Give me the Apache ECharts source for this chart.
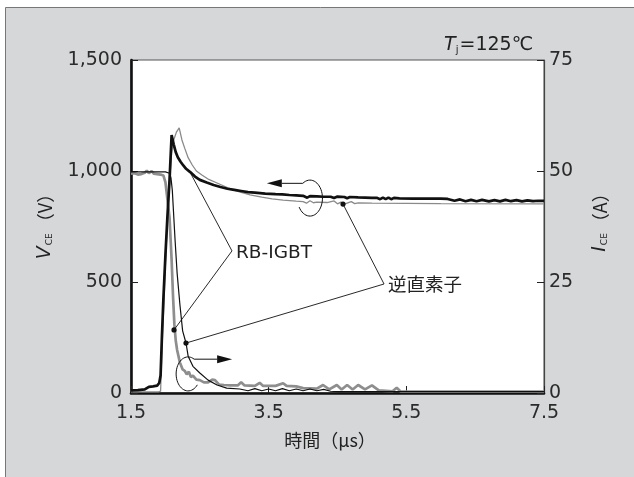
<!DOCTYPE html>
<html>
<head>
<meta charset="utf-8">
<script src="https://cdn.jsdelivr.net/npm/echarts@6/dist/echarts.min.js"></script>
<style>
html, body { margin: 0; padding: 0; background: #fff; }
#main { width: 634px; height: 477px; }
</style>
</head>
<body>
<div id="main"></div>
<script>
// tick values
const xTicks = [1.5, 3.5, 5.5, 7.5];

// V_CE, RB-IGBT (black thick), volts
const tVceRb = [1.5, 1.6, 1.7, 1.76, 1.82, 1.88, 1.91, 1.93, 1.95, 1.97, 2.0, 2.03, 2.06, 2.09,
  2.12, 2.15, 2.18, 2.22, 2.26, 2.3, 2.36, 2.43, 2.5, 2.6, 2.7, 2.8, 2.9, 3.0, 3.1, 3.2, 3.3,
  3.45, 3.6, 3.7, 3.8, 3.9, 4.0, 4.06, 4.1, 4.2, 4.3, 4.4, 4.45, 4.5, 4.6, 4.64, 4.68, 4.8,
  5.0, 5.07, 5.12, 5.16, 5.2, 5.24, 5.28, 5.32, 5.4, 5.6, 6.0, 6.1, 6.2, 6.28, 6.36, 6.44,
  6.52, 6.6, 6.7, 6.78, 6.86, 6.94, 7.02, 7.1, 7.18, 7.26, 7.34, 7.42, 7.5];
const vceRb = [12, 13, 16, 28, 30, 33, 45, 80, 260, 420, 620, 800, 960, 1162,
  1120, 1085, 1062, 1042, 1025, 1010, 995, 975, 960, 948, 937, 928, 920, 915, 910, 905, 903,
  898, 896, 895, 892, 890, 888, 880, 887, 886, 884, 884, 878, 885, 883, 877, 883, 881,
  879, 879, 873, 880, 873, 880, 873, 879, 877, 876, 876, 874, 866, 872, 864, 870,
  864, 870, 863, 869, 863, 870, 864, 869, 863, 868, 864, 866, 865];

// V_CE, 逆直素子 (grey thin), volts
const tVceRev = [1.5, 1.9, 1.93, 1.95, 1.98, 2.0, 2.03, 2.06, 2.09, 2.12, 2.16, 2.2, 2.24, 2.28,
  2.33, 2.39, 2.45, 2.53, 2.63, 2.75, 2.9, 3.05, 3.23, 3.4, 3.55, 3.71, 3.9, 4.0, 4.05, 4.1,
  4.15, 4.2, 4.35, 4.45, 4.5, 4.55, 4.6, 4.7, 4.75, 4.8, 5.0, 5.5, 6.0, 7.5];
const vceRev = [5, 5, 8, 200, 420, 580, 780, 950, 1080, 1140, 1175, 1194, 1140, 1103,
  1060, 1027, 1000, 982, 962, 946, 925, 908, 892, 882, 874, 869, 864, 862, 855, 866,
  857, 860, 858, 865, 852, 860, 851, 862, 853, 856, 855, 854, 853, 852];

// I_C, RB-IGBT (grey thick), amperes
const tIcRb = [1.5, 1.55, 1.6, 1.65, 1.7, 1.73, 1.76, 1.8, 1.83, 1.88, 1.93, 1.97, 2.0, 2.03,
  2.06, 2.09, 2.11, 2.13, 2.15, 2.17, 2.21, 2.25, 2.28, 2.31, 2.34, 2.37, 2.4, 2.45, 2.5,
  2.56, 2.62, 2.68, 2.72, 2.78, 2.85, 2.95, 3.05, 3.1, 3.15, 3.3, 3.37, 3.42, 3.6, 3.71,
  3.76, 3.9, 4.0, 4.2, 4.29, 4.38, 4.49, 4.56, 4.64, 4.72, 4.8, 4.9, 5.0, 5.1, 5.2, 5.3,
  5.36, 5.42, 5.6, 7.5];
const icRb = [49.4, 49.5, 49.2, 49.3, 49.6, 50.1, 49.5, 50.0, 49.4, 49.3, 49.2, 49.0, 47.5, 43.5,
  39.5, 30, 22, 15.5, 11.8, 9.7, 6.9, 5.3, 5.0, 4.2, 4.8, 3.6, 3.9, 3.0, 2.9,
  2.4, 2.4, 3.0, 2.9, 1.9, 1.8, 1.7, 1.7, 2.4, 1.7, 1.6, 2.3, 1.6, 1.6, 2.2,
  1.6, 1.5, 1.1, 1.0, 1.8, 0.8, 1.8, 0.8, 1.8, 0.8, 1.8, 0.8, 1.7, 0.6, 0.5, 0.4,
  1.2, 0.3, 0.3, 0.3];

// I_C, 逆直素子 (black thin), amperes
const tIcRev = [1.5, 2.0, 2.06, 2.08, 2.1, 2.14, 2.17, 2.21, 2.25, 2.3, 2.33, 2.4, 2.5, 2.62,
  2.75, 2.89, 3.08, 3.2, 3.3, 3.4, 3.5, 3.6, 3.7, 3.8, 3.9, 4.0, 4.1, 4.2, 4.3, 4.4, 4.5, 7.5];
const icRev = [49.8, 49.8, 49.5, 48.5, 45.7, 34.5, 27, 20, 14, 11.2, 8.3, 6.0, 4.5, 2.9,
  1.8, 1.1, 0.9, 0.5, 1.0, 0.5, 0.9, 0.5, 1.0, 0.5, 0.9, 0.5, 0.9, 0.5, 0.8, 0.4, 0.3, 0.3];

// leader lines: [vertex, end points...], data units of the left axis
const rbLeader = { label: 'RB-IGBT', vertex: [2.967, 640], ends: [[2.357, 995], [2.125, 284]], dots: [false, true] };
const revLeader = { label: '逆直素子', vertex: [5.176, 491], ends: [[4.58, 851], [2.299, 225]], dots: [true, true] };
const vEllipseAt = [4.10, 878];
const iEllipseAt = [2.33, 86];

const zip = (xs, ys) => xs.map((x, i) => [x, ys[i]]);

const chart = echarts.init(document.getElementById('main'));
const tickFont = { fontFamily: 'DejaVu Sans', fontSize: 19, color: '#2b2b2b' };

chart.setOption({
  animation: false,
  backgroundColor: '#ffffff',
  grid: { left: 131, right: 90, top: 60, bottom: 84, show: true, backgroundColor: '#fff', borderColor: '#555', borderWidth: 1 },
  xAxis: {
    type: 'value', min: 1.5, max: 7.5,
    axisLine: { show: true, onZero: false, lineStyle: { color: '#111', width: 2.6 } },
    axisTick: { show: true, inside: true, length: 7, customValues: xTicks, lineStyle: { color: '#222', width: 1 } },
    axisLabel: { customValues: xTicks, margin: 11, ...tickFont },
    splitLine: { show: false }
  },
  yAxis: [{
    type: 'value', min: 0, max: 1500, interval: 500, position: 'left',
    axisLine: { show: true, lineStyle: { color: '#111', width: 2.6 } },
    axisTick: { show: true, inside: true, length: 7, lineStyle: { color: '#222', width: 1 } },
    axisLabel: { margin: 9, ...tickFont, formatter: v => v.toLocaleString('en-US') },
    splitLine: { show: false }
  }, {
    type: 'value', min: 0, max: 75, interval: 25, position: 'right',
    axisLine: { show: true, lineStyle: { color: '#444', width: 1.2 } },
    axisTick: { show: true, inside: true, length: 7, lineStyle: { color: '#222', width: 1 } },
    axisLabel: { margin: 5, ...tickFont },
    splitLine: { show: false }
  }],
  series: [
    { name: 'VCE 逆直素子', type: 'line', yAxisIndex: 0, data: zip(tVceRev, vceRev), showSymbol: false,
      lineStyle: { color: '#8a8a8a', width: 1.3 }, z: 2 },
    { name: 'IC RB-IGBT', type: 'line', yAxisIndex: 1, data: zip(tIcRb, icRb), showSymbol: false,
      lineStyle: { color: '#8e8e8e', width: 2.7 }, z: 3 },
    { name: 'IC 逆直素子', type: 'line', yAxisIndex: 1, data: zip(tIcRev, icRev), showSymbol: false,
      lineStyle: { color: '#111', width: 1.2 }, z: 4 },
    { name: 'VCE RB-IGBT', type: 'line', yAxisIndex: 0, data: zip(tVceRb, vceRb), showSymbol: false,
      lineStyle: { color: '#111', width: 2.7 }, z: 5 }
  ]
});

const px = p => chart.convertToPixel({ xAxisIndex: 0, yAxisIndex: 0 }, p);
const graphics = [];

// panel
graphics.push({ type: 'rect', z: -10, silent: true, shape: { x: 5.5, y: 7.5, width: 640, height: 480 },
  style: { fill: '#d6d7d9', stroke: '#777', lineWidth: 1 } });
graphics.push({ type: 'rect', z: -9, silent: true, shape: { x: 131, y: 60, width: 413, height: 333 },
  style: { fill: '#fff' } });

// leaders
[rbLeader, revLeader].forEach(ld => {
  const v = px(ld.vertex);
  ld.ends.forEach((e, i) => {
    const p = px(e);
    graphics.push({ type: 'line', z: 20, shape: { x1: v[0], y1: v[1], x2: p[0], y2: p[1] }, style: { stroke: '#111', lineWidth: 0.9 } });
    if (ld.dots[i]) graphics.push({ type: 'circle', z: 21, shape: { cx: p[0], cy: p[1], r: 2.6 }, style: { fill: '#111' } });
  });
  graphics.push({ type: 'text', z: 21, x: v[0] + 4, y: v[1] + 2,
    style: { text: ld.label, fontFamily: 'DejaVu Sans, Noto Sans CJK JP', fontSize: 18.5, fill: '#222', verticalAlign: 'middle', align: 'left' } });
});

// ellipse marks with arrows
function ellipseArc(c, rx, ry, a0, a1) {
  const pts = [];
  const n = 40;
  for (let k = 0; k <= n; k++) {
    const a = (a0 + (a1 - a0) * k / n) * Math.PI / 180;
    pts.push([c[0] + rx * Math.cos(a), c[1] + ry * Math.sin(a)]);
  }
  return pts;
}
function arrow(from, dir, len) {
  const tip = [from[0] + dir * len, from[1]];
  const base = tip[0] - dir * 15;
  graphics.push({ type: 'line', z: 20, shape: { x1: from[0], y1: from[1], x2: base, y2: from[1] }, style: { stroke: '#111', lineWidth: 1 } });
  graphics.push({ type: 'polygon', z: 20, shape: { points: [[tip[0], tip[1]], [base, tip[1] - 4], [base, tip[1] + 4]] }, style: { fill: '#111' } });
}
{
  const c = px(vEllipseAt);
  const pts = ellipseArc(c, 12.5, 18, -125, 150);
  graphics.push({ type: 'polyline', z: 20, shape: { points: pts }, style: { stroke: '#111', lineWidth: 1, fill: null } });
  arrow(pts[0], -1, 36);
}
{
  const c = px(iEllipseAt);
  const pts = ellipseArc(c, 12, 17, -60, -320);
  graphics.push({ type: 'polyline', z: 20, shape: { points: pts }, style: { stroke: '#111', lineWidth: 1, fill: null } });
  arrow(pts[0], 1, 38);
}

// texts
graphics.push({ type: 'text', z: 21, x: 533, y: 45,
  style: {
    text: '{i|T}{s|j}{n|=125℃}', align: 'right', verticalAlign: 'middle', fill: '#222',
    rich: {
      i: { fontFamily: 'DejaVu Sans', fontStyle: 'italic', fontSize: 19, fill: '#222' },
      s: { fontFamily: 'DejaVu Sans', fontSize: 10, fill: '#222', padding: [10, 1, 0, 0] },
      n: { fontFamily: 'DejaVu Sans, Noto Sans CJK JP', fontSize: 19, fill: '#222' }
    }
  } });
graphics.push({ type: 'text', z: 21, x: 45, y: 222, rotation: Math.PI / 2,
  style: {
    text: '{i|V}{s|CE}{n|（V）}', align: 'center', verticalAlign: 'middle',
    rich: {
      i: { fontFamily: 'DejaVu Sans', fontStyle: 'italic', fontSize: 19, fill: '#222' },
      s: { fontFamily: 'DejaVu Sans', fontSize: 9, fill: '#222', padding: [10, 2, 0, 1] },
      n: { fontFamily: 'Noto Sans CJK JP', fontSize: 18, fill: '#222' }
    }
  } });
graphics.push({ type: 'text', z: 21, x: 600, y: 218, rotation: Math.PI / 2,
  style: {
    text: '{i|I}{s|CE}{n|（A）}', align: 'center', verticalAlign: 'middle',
    rich: {
      i: { fontFamily: 'DejaVu Sans', fontStyle: 'italic', fontSize: 19, fill: '#222' },
      s: { fontFamily: 'DejaVu Sans', fontSize: 9, fill: '#222', padding: [10, 2, 0, 1] },
      n: { fontFamily: 'Noto Sans CJK JP', fontSize: 18, fill: '#222' }
    }
  } });
graphics.push({ type: 'text', z: 21, x: 330, y: 440,
  style: { text: '時間（μs）', fontFamily: 'Noto Sans CJK JP', fontSize: 18, fill: '#222', align: 'center', verticalAlign: 'middle' } });

chart.setOption({ graphic: graphics });
</script>
</body>
</html>
